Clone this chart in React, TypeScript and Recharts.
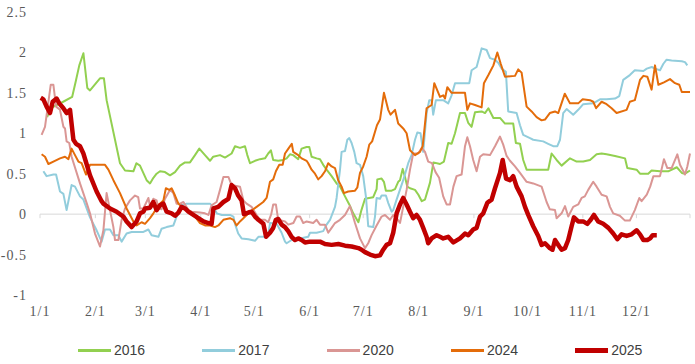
import { LineChart, Line, XAxis, YAxis, ReferenceLine, Legend } from "recharts";

// day of year (0 = 1/1) -> value
const monthTicks = [0, 31, 59, 90, 120, 151, 181, 212, 243, 273, 304, 334];
const monthLabels = ["1/1", "2/1", "3/1", "4/1", "5/1", "6/1", "7/1", "8/1", "9/1", "10/1", "11/1", "12/1"];
const yTicks = [-1, -0.5, 0, 0.5, 1, 1.5, 2, 2.5];

const s2016: [number, number][] = [
  [4, 1.2], [6, 1.31], [13, 1.39], [18, 1.45], [20, 1.64], [22, 1.84], [24.3, 1.99], [26.5, 1.56], [28, 1.53], [33.6, 1.68],
  [35.8, 1.68], [37.3, 1.41], [44.8, 0.63], [47.6, 0.54], [52.3, 0.53], [54, 0.63], [56, 0.6], [59.7, 0.42], [61.6, 0.38],
  [63.5, 0.45], [65.3, 0.5], [67.2, 0.53], [70, 0.52], [72.8, 0.48], [75.6, 0.52], [78.4, 0.6], [81.2, 0.64], [84, 0.64],
  [86.8, 0.73], [89.2, 0.81], [92.4, 0.73], [95.2, 0.66], [97, 0.71], [100.8, 0.73], [103.6, 0.7], [107.3, 0.75], [109.2, 0.84],
  [112, 0.82], [114.8, 0.84], [116.1, 0.73], [117.6, 0.63], [120.4, 0.66], [123.2, 0.68], [126, 0.69], [127.8, 0.75],
  [129.3, 0.79], [130.6, 0.67], [133.4, 0.66], [136.2, 0.67], [138.1, 0.69], [140, 0.74], [141.8, 0.73], [144.6, 0.68],
  [146.5, 0.81], [149.3, 0.83], [150.8, 0.83], [152.1, 0.71], [154.9, 0.69], [156.8, 0.68], [158.6, 0.61], [160.5, 0.55],
  [163.3, 0.47], [166.1, 0.38], [168, 0.34], [170.8, 0.22], [173.2, 0.12], [175.4, 0.01], [178.3, -0.1], [180, 0.05],
  [182, 0.19], [186.6, 0.21], [188.5, 0.31], [188.9, 0.43], [191.3, 0.44], [192.6, 0.4], [193.7, 0.29], [196.9, 0.29],
  [198.8, 0.31], [200.6, 0.4], [201.6, 0.42], [203.1, 0.56], [204.4, 0.46], [205.7, 0.34], [207.2, 0.32], [210, 0.3],
  [211.9, 0.24], [213.8, 0.16], [215.6, 0.18], [218.4, 0.39], [220.3, 0.64], [224, 0.62], [226.2, 0.65], [228.6, 0.88],
  [230.5, 0.87], [232.4, 1.0], [235.2, 1.25], [238, 1.25], [239.8, 1.13], [241.7, 1.08], [243.6, 1.26], [247.3, 1.27],
  [249.2, 1.25], [251.1, 1.31], [253.9, 1.19], [257.6, 1.19], [260.4, 1.12], [263.2, 1.12], [265, 1.12], [266.5, 0.88],
  [268.8, 0.87], [270.6, 0.67], [272.5, 0.55], [284.6, 0.55], [286.5, 0.75], [289.3, 0.67], [292.1, 0.6], [296.8, 0.69],
  [300.5, 0.65], [304.2, 0.65], [308, 0.67], [311.7, 0.74], [314.5, 0.75], [317.3, 0.74], [322, 0.72], [327.6, 0.69],
  [328.9, 0.57], [334.1, 0.55], [336, 0.5], [340.6, 0.5], [342.5, 0.54], [347.2, 0.53], [351.8, 0.53], [356.6, 0.58],
  [359.4, 0.51], [361.2, 0.5], [364, 0.54],
];

const s2017: [number, number][] = [
  [1.9, 0.53], [3.7, 0.47], [7.5, 0.49], [9, 0.49], [11.2, 0.28], [13.1, 0.25], [14.9, 0.05], [17.7, 0.36], [19.6, 0.34],
  [22.4, 0.22], [24.3, 0.18], [28, -0.04], [31.7, -0.2], [34.5, -0.34], [36.4, -0.19], [39.2, -0.19], [41.1, -0.26],
  [43.9, -0.26], [45.7, -0.34], [48.5, -0.24], [51.3, -0.22], [57.9, -0.22], [60.7, -0.19], [62.5, -0.26], [66.3, -0.28],
  [68.1, -0.18], [70.9, -0.16], [74.7, -0.14], [76.5, -0.03], [79.3, 0.11], [82.1, 0.13], [95.2, 0.13], [97.1, 0.09],
  [99, 0.01], [101.8, -0.01], [106.4, -0.01], [108.3, -0.03], [109.2, -0.12], [111, -0.24], [112.9, -0.3], [116.7, -0.31],
  [120.4, -0.33], [122.3, -0.28], [126, -0.28], [127.8, -0.26], [128.8, -0.11], [132.5, -0.12], [135.3, -0.23],
  [137.2, -0.34], [138.1, -0.36], [140.9, -0.32], [145.6, -0.3], [150.2, -0.28], [151.2, -0.23], [154.9, -0.23],
  [158.6, -0.21], [160.5, -0.13], [162.4, -0.07], [165.2, 0.09], [166.1, 0.2], [168, 0.55], [168.9, 0.77], [170.8, 0.78],
  [172.1, 0.92], [173.2, 0.94], [174.5, 0.88], [176, 0.77], [177.3, 0.63], [179.2, 0.61], [181, 0.47], [182.6, 0.2],
  [183.8, -0.15], [186.6, -0.16], [187.6, -0.03], [188.5, 0.2], [190.4, 0.19], [191.3, 0.23], [193.7, 0.23], [195, 0.14],
  [196.9, 0.03], [197.8, 0.05], [199.7, 0.18], [203.4, 0.42], [206.2, 0.63], [208.1, 0.73], [210, 0.92], [211.3, 1.01],
  [213.1, 1.0], [214.6, 0.77], [216.5, 1.25], [218, 1.41], [219.3, 1.41], [220.2, 1.23], [221.7, 1.41], [225.8, 1.41],
  [228.6, 1.37], [230.5, 1.47], [232.4, 1.62], [240.4, 1.62], [241.7, 1.78], [244.5, 1.82], [247.3, 2.05], [250.1, 2.03],
  [252, 1.93], [254.8, 1.91], [256.7, 1.87], [258.5, 1.8], [260.9, 1.76], [262.2, 1.27], [266.9, 1.25], [268.8, 1.1],
  [270.6, 0.98], [274.4, 0.94], [276.2, 0.92], [281.8, 0.9], [284.6, 0.87], [287.4, 0.84], [289.7, 0.84], [291.2, 0.92],
  [293, 1.25], [294.9, 1.3], [298.6, 1.23], [301.4, 1.29], [304.2, 1.36], [309.8, 1.37], [313.6, 1.42], [317.3, 1.42],
  [322, 1.43], [324.4, 1.46], [326.6, 1.66], [330.3, 1.72], [333.1, 1.78], [337.9, 1.77], [339.8, 1.8], [342.6, 1.82],
  [344.4, 1.8], [347.2, 1.78], [349.1, 1.86], [350.9, 1.91], [353.7, 1.9], [359.4, 1.89], [361.2, 1.88], [362.5, 1.84],
];

const s2020: [number, number][] = [
  [0.9, 0.98], [2.8, 1.08], [4.1, 1.29], [6, 1.6], [7.5, 1.6], [9, 1.33], [11.2, 1.29], [13.1, 1.08], [14, 1.06], [14.9, 0.9],
  [16.4, 0.88], [17.7, 0.71], [22.4, 0.38], [26.1, 0.14], [28, 0.01], [30.8, -0.24], [33.6, -0.4], [35.5, -0.2], [37.3, 0.26],
  [39.2, 0.05], [41.1, -0.16], [42, -0.32], [43.9, -0.32], [45.7, -0.07], [47.6, 0.07], [50.4, 0.17], [53.2, 0.23], [55, 0.21],
  [56, 0.07], [57.9, 0.07], [60.7, 0.2], [61.6, 0.1], [63.5, 0.19], [65.3, 0.17], [66.3, 0.07], [68.1, 0.06], [70, 0.19],
  [72.8, 0.3], [74.7, 0.26], [76.5, 0.13], [78.4, 0.13], [80.3, 0.15], [83.1, 0.05], [84.9, 0.03], [89.6, 0.02], [92.4, 0.01],
  [94.3, -0.01], [96.1, 0.11], [98.9, 0.15], [100.8, 0.3], [102.7, 0.46], [105.5, 0.46], [107.3, 0.36], [112, 0.34],
  [113.9, 0.17], [115.7, 0.13], [118.5, 0.09], [121.3, -0.01], [123.2, -0.07], [126, -0.07], [127.8, -0.1], [129.5, 0.0],
  [130.6, 0.12], [132.1, 0.12], [133.4, -0.07], [137.2, -0.09], [139, -0.13], [141.9, -0.11], [143.7, -0.03], [145.6, -0.03],
  [147.4, -0.11], [149.3, -0.09], [153, -0.11], [154.9, -0.07], [156.8, -0.13], [159.6, -0.13], [161.4, -0.23],
  [163.3, -0.17], [165.2, -0.11], [168, -0.07], [170.8, -0.01], [173.6, 0.1], [176.4, -0.11], [179.2, -0.3], [182, -0.42],
  [183.8, -0.36], [185.7, -0.26], [188.5, -0.14], [191.3, -0.03], [193.2, -0.01], [196, -0.07], [197.8, -0.01],
  [199.7, -0.05], [201.6, -0.11], [203.4, 0.09], [205.3, 0.3], [207.2, 0.55], [209, 0.75], [211.8, 0.75], [213.8, 0.82],
  [215.6, 0.77], [217.4, 0.65], [219.5, 0.63], [221.5, 0.52], [223.5, 0.45], [225.8, 0.22], [227.7, 0.12], [229.6, 0.12],
  [231.5, 0.34], [233.3, 0.47], [236.1, 0.49], [238, 0.84], [239.3, 0.95], [240.8, 0.84], [242.6, 0.67], [244.5, 0.53],
  [246.4, 0.71], [248.2, 0.74], [252, 0.73], [254.8, 0.84], [257.6, 0.96], [259.4, 0.86], [261.3, 0.72], [263.2, 0.66],
  [266, 0.59], [268.8, 0.51], [272.5, 0.4], [276.2, 0.38], [280.9, 0.34], [283.7, 0.15], [285.5, 0.06], [288.4, 0.05],
  [289.3, -0.05], [292.1, 0.01], [294, 0.1], [295.8, -0.03], [298.6, 0.09], [301.4, 0.12], [303.3, 0.2], [305.1, 0.22],
  [307, 0.3], [309.8, 0.4], [311.7, 0.34], [314.5, 0.24], [317.3, 0.22], [319.2, 0.09], [321, 0.01], [324.7, -0.02],
  [327.6, -0.08], [330.3, -0.08], [333.1, 0.05], [335.6, 0.2], [336.9, 0.16], [339.8, 0.24], [341.7, 0.34], [343.5, 0.47],
  [347.2, 0.47], [349.4, 0.68], [351.3, 0.57], [353.7, 0.57], [356.9, 0.74], [358.4, 0.61], [361.2, 0.49], [362.5, 0.59],
  [364, 0.75],
];

const s2024: [number, number][] = [
  [0.9, 0.74], [2.8, 0.71], [4.7, 0.62], [7.5, 0.65], [11.2, 0.69], [14, 0.71], [15.9, 0.68], [17.7, 0.81], [19.6, 0.73],
  [21.5, 0.65], [23.3, 0.63], [25.8, 0.49], [28, 0.61], [36.4, 0.61], [38.3, 0.55], [41.1, 0.42], [44.8, 0.26], [48.5, 0.07],
  [50.4, -0.01], [52.3, -0.09], [54.1, -0.14], [56.9, -0.1], [58.8, -0.12], [61.6, -0.05], [63.5, 0.01], [66.3, 0.11],
  [69.1, 0.17], [70.5, 0.32], [72.4, 0.3], [73.7, 0.32], [75.6, 0.23], [77.5, 0.13], [79.3, 0.09], [82.1, 0.05], [84, 0.01],
  [86.8, -0.03], [89.6, -0.11], [92.4, -0.14], [95.2, -0.14], [98, -0.16], [99.9, -0.14], [102.7, -0.07], [106.4, -0.05],
  [108.3, -0.07], [110.1, -0.14], [112, -0.09], [113.9, -0.05], [117.6, 0.03], [121.3, 0.09], [125, 0.15], [126.9, 0.2],
  [128.8, 0.4], [130.6, 0.43], [132.1, 0.53], [134, 0.61], [135.9, 0.61], [137.2, 0.75], [139.1, 0.81], [141, 0.87],
  [141.8, 0.77], [144.6, 0.73], [146.5, 0.69], [149.3, 0.66], [150.2, 0.63], [152.1, 0.55], [154, 0.5], [155.8, 0.43],
  [157.7, 0.47], [159.6, 0.53], [161.4, 0.63], [163.3, 0.59], [165.2, 0.57], [167, 0.42], [168.9, 0.34], [170.2, 0.26],
  [172.6, 0.28], [176.4, 0.29], [177.7, 0.33], [179.2, 0.51], [181, 0.59], [182.9, 0.71], [184.4, 0.86], [186, 0.9],
  [188.7, 1.1], [190.4, 1.17], [192.6, 1.5], [195, 1.29], [196.3, 1.23], [198.8, 1.29], [200.6, 1.12], [203.4, 1.06],
  [205.3, 1.0], [207.2, 0.79], [210, 0.73], [212.8, 0.77], [214.3, 0.84], [216.5, 1.31], [219.3, 1.35], [220.8, 1.62],
  [224, 1.45], [225.8, 1.47], [226.8, 1.43], [228.1, 1.57], [230.5, 1.5], [238, 1.5], [239.3, 1.29], [240.8, 1.37],
  [243.6, 1.35], [247.3, 1.32], [248.6, 1.62], [251.1, 1.72], [253.9, 1.84], [256.1, 2.0], [258, 1.86], [260.4, 1.7],
  [266, 1.71], [267.8, 1.79], [269.7, 1.75], [272.5, 1.33], [275.3, 1.27], [278.1, 1.2], [280.9, 1.16], [282.8, 1.17],
  [285.5, 1.25], [288.4, 1.27], [290.2, 1.25], [293.9, 1.49], [296.8, 1.37], [301.4, 1.37], [303.9, 1.42], [308, 1.41],
  [309.8, 1.39], [311.4, 1.31], [314.5, 1.39], [317.3, 1.36], [320.1, 1.31], [322.9, 1.25], [328.5, 1.29], [330.3, 1.39],
  [333.1, 1.41], [336, 1.66], [337.9, 1.71], [340.1, 1.7], [342.5, 1.54], [344.4, 1.84], [346.3, 1.6], [349.4, 1.63],
  [352.8, 1.67], [355.6, 1.62], [358, 1.6], [359.4, 1.51], [364, 1.51],
];

const s2025: [number, number][] = [
  [0.4, 1.44], [1.9, 1.42], [3.7, 1.33], [5.6, 1.25], [7.1, 1.39], [9.3, 1.43], [10.8, 1.37], [13.1, 1.31], [14.9, 1.25],
  [16.8, 1.29], [18.7, 0.92], [20.2, 0.87], [22.4, 0.84], [24.3, 0.75], [28, 0.48], [31.7, 0.28], [34.5, 0.16], [35.5, 0.13],
  [39.2, 0.07], [42.9, 0.03], [46.7, -0.03], [48.5, -0.09], [51.3, -0.16], [54.1, -0.09], [56, 0.01], [57.9, 0.03],
  [58.8, 0.07], [61.6, 0.08], [63.5, 0.15], [65.3, 0.05], [67.2, 0.11], [69.1, 0.13], [70.9, 0.03], [73.7, 0.01],
  [75.6, -0.02], [77.5, 0.02], [79.3, 0.09], [81.2, 0.07], [83.1, 0.03], [85.9, -0.01], [88.7, -0.05], [91.5, -0.09],
  [94.3, -0.11], [96.1, -0.12], [97.1, 0.07], [99.8, 0.09], [102.7, 0.15], [105.5, 0.19], [107.3, 0.36], [109.2, 0.32],
  [111, 0.23], [112.9, 0.17], [114.2, 0], [116.7, 0.02], [118.5, 0.03], [120.4, -0.03], [122.3, -0.07], [125.1, -0.12],
  [126.6, -0.28], [128.8, -0.23], [130.6, -0.17], [132.1, -0.07], [133.4, -0.06], [135.3, -0.13], [137.2, -0.16],
  [139, -0.21], [140.9, -0.28], [142.8, -0.32], [144.6, -0.3], [146.5, -0.32], [148.4, -0.35], [151.2, -0.34],
  [156.8, -0.34], [159.6, -0.37], [163.3, -0.38], [167.1, -0.37], [170.8, -0.39], [174.5, -0.4], [178.3, -0.42],
  [180.1, -0.44], [182, -0.47], [184.8, -0.5], [187.6, -0.52], [190.4, -0.51], [192.2, -0.44], [194.1, -0.38], [196, -0.36],
  [197.8, -0.23], [199.7, 0.01], [201.6, 0.12], [203.4, 0.2], [205.3, 0.12], [207.2, 0.03], [209, -0.05], [210.9, -0.01],
  [212.8, -0.07], [214.6, -0.17], [216.5, -0.28], [217.4, -0.36], [219.3, -0.3], [222.1, -0.26], [224, -0.28],
  [225.8, -0.3], [228.6, -0.28], [231.5, -0.35], [235.2, -0.3], [238, -0.24], [239.8, -0.26], [242.6, -0.19],
  [244.5, -0.17], [246.4, -0.03], [248.2, 0.01], [250.5, 0.14], [252.9, 0.18], [254.8, 0.32], [257.6, 0.51], [259.1, 0.67],
  [261, 0.44], [263.2, 0.42], [265, 0.47], [266.9, 0.34], [269.7, 0.22], [271.6, 0.09], [273.4, -0.01], [276.2, -0.15],
  [279, -0.27], [280.9, -0.38], [282.8, -0.36], [285.5, -0.42], [287, -0.44], [288.4, -0.32], [290.8, -0.4], [292.1, -0.44],
  [294, -0.42], [295.8, -0.32], [297.7, -0.15], [299, -0.04], [301.4, -0.09], [304.2, -0.09], [306.5, -0.12], [308.4, -0.07],
  [310.2, -0.01], [312.6, -0.09], [315.4, -0.12], [318.3, -0.17], [321, -0.24], [323.3, -0.31], [325.7, -0.25],
  [328.5, -0.27], [331.3, -0.25], [334.1, -0.2], [336, -0.25], [337.9, -0.32], [340.1, -0.32], [341.7, -0.3],
  [343.1, -0.26], [345.4, -0.26],
];

const toPoints = (s: [number, number][]) => s.map(([d, v]) => ({ d, v }));

const series = [
  { name: "2016", data: s2016, color: "#92D050", width: 2, legendH: 3 },
  { name: "2017", data: s2017, color: "#92CDDC", width: 2, legendH: 3 },
  { name: "2020", data: s2020, color: "#DA9694", width: 2, legendH: 3 },
  { name: "2024", data: s2024, color: "#E46C0A", width: 2, legendH: 3 },
  { name: "2025", data: s2025, color: "#C00000", width: 4.5, legendH: 5 },
];

const tickFont = {
  fontFamily: "'Liberation Serif', 'DejaVu Serif', serif",
  fontSize: 14,
  letterSpacing: 1,
  fill: "#595959",
};

function LegendBox() {
  return (
    <div style={{ position: "relative", width: 695, height: 30 }}>
      {series.map((s, i) => (
        <div
          key={s.name}
          style={{ position: "absolute", left: 78 + i * 124.3, top: 6, display: "flex", alignItems: "center", height: 20 }}
        >
          <span style={{ display: "inline-block", width: 33, height: s.legendH, background: s.color }} />
          <span style={{ marginLeft: 3, fontFamily: "'Liberation Sans', Arial, sans-serif", fontSize: 14, color: "#404040" }}>
            {s.name}
          </span>
        </div>
      ))}
    </div>
  );
}

export default function App() {
  return (
    <div style={{ position: "absolute", left: 0, top: 0, width: 695, height: 364, background: "#fff" }}>
      <LineChart width={695} height={364} margin={{ top: 12, right: 5, bottom: 0, left: 0 }}>
        <XAxis
          type="number"
          dataKey="d"
          domain={[0, 364]}
          ticks={monthTicks}
          tickFormatter={(v: number) => monthLabels[monthTicks.indexOf(v)] ?? ""}
          axisLine={false}
          tickLine={false}
          tickSize={0}
          tickMargin={11}
          height={39}
          interval={0}
          tick={tickFont}
        />
        <YAxis
          domain={[-1, 2.5]}
          ticks={yTicks}
          axisLine={false}
          tickLine={false}
          tickSize={0}
          tickMargin={13}
          width={40}
          interval={0}
          tick={tickFont}
        />
        <ReferenceLine y={0} stroke="#d9d9d9" strokeWidth={1} />
        {monthTicks.concat([364]).map((m) => (
          <ReferenceLine
            key={m}
            segment={[{ x: m, y: 0 }, { x: m, y: -0.05 }]}
            stroke="#d9d9d9"
            strokeWidth={1}
          />
        ))}
        {series.map((s) => (
          <Line
            key={s.name}
            data={toPoints(s.data)}
            dataKey="v"
            name={s.name}
            type="linear"
            stroke={s.color}
            strokeWidth={s.width}
            strokeLinejoin="round"
            dot={false}
            activeDot={false}
            isAnimationActive={false}
          />
        ))}
        <Legend verticalAlign="bottom" height={30} wrapperStyle={{ left: 0, bottom: 0, width: 695 }} content={() => <LegendBox />} />
      </LineChart>
    </div>
  );
}
